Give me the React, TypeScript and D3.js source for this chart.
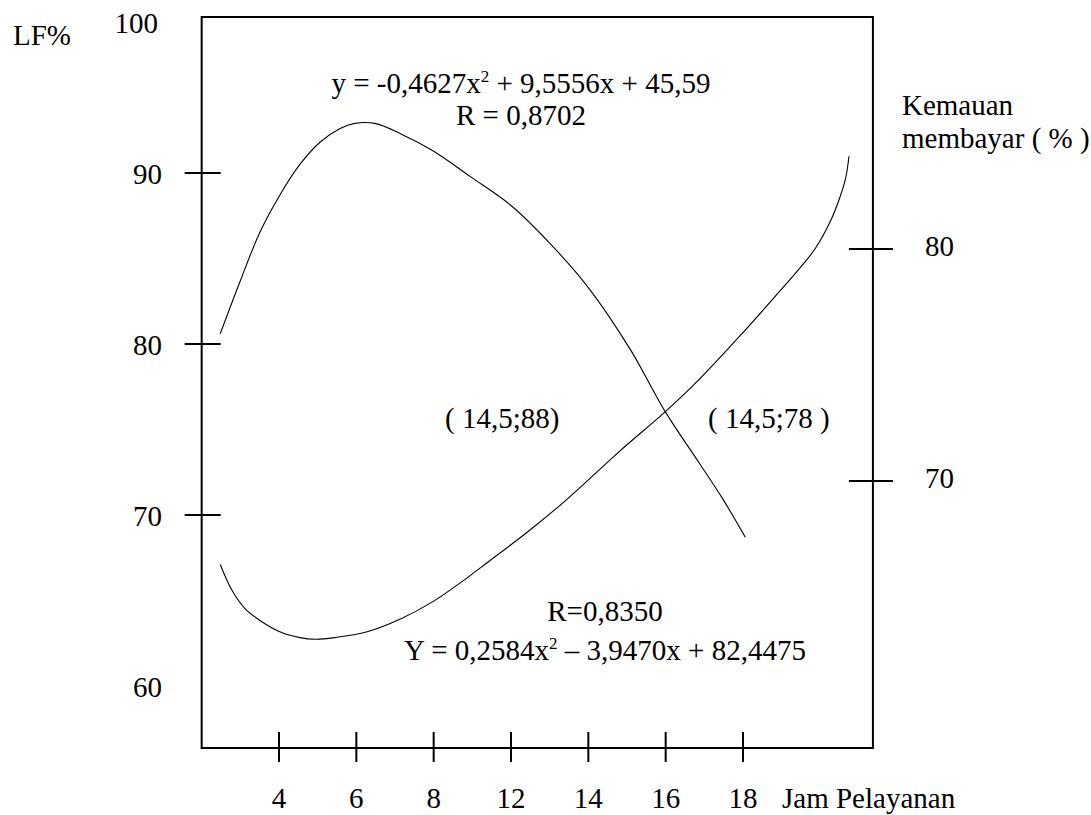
import React, { useEffect } from "react";
import * as d3 from "d3";

// x axis: categorical hour labels, evenly spaced
const hourLabels = ["4", "6", "8", "12", "14", "16", "18"];
// left axis (LF%)
const lfTicks = [90, 80, 70];
const lfLabels = [90, 80, 70, 60];
// right axis (Kemauan membayar %)
const payTicks = [80, 70];

// curves; x in tick steps (0 = "4", 6 = "18")
const lfX = [-0.76, -0.5, -0.25, 0.01, 0.27, 0.53, 0.79, 0.98, 1.24, 1.57, 1.99, 2.47, 3.0, 3.5, 4.0, 4.54, 5.0, 5.44, 5.73, 6.03];
const lfY = [80.6, 83.7, 86.5, 88.7, 90.5, 91.8, 92.6, 92.9, 92.9, 92.3, 91.3, 89.8, 88.1, 85.9, 83.3, 79.7, 76.0, 73.0, 71.0, 68.7];

const payX = [-0.76, -0.61, -0.44, -0.25, 0.01, 0.27, 0.47, 0.72, 1.14, 1.57, 1.99, 2.34, 2.7, 3.25, 3.72, 4.41, 5.0, 5.44, 6.0, 6.48, 6.74, 6.93, 7.13, 7.25, 7.33, 7.37];
const payY = [66.4, 65.3, 64.5, 64.0, 63.5, 63.25, 63.18, 63.25, 63.5, 64.05, 64.8, 65.6, 66.5, 67.9, 69.2, 71.3, 73.0, 74.4, 76.4, 78.2, 79.2, 80.0, 81.2, 82.2, 83.1, 84.0];

const W = 1091;
const H = 815;
const font = "'Liberation Serif', 'Times New Roman', serif";
const fs = 29;

const App = () => {
  useEffect(() => {
    document.body.style.margin = "0";
  }, []);

  const x = d3.scaleLinear().domain([0, 6]).range([279, 743]);
  const yL = d3.scaleLinear().domain([70, 90]).range([515, 173]);
  const yR = d3.scaleLinear().domain([70, 80]).range([481, 249]);

  const left = x(-1);
  const right = x(7.68);
  const top = 17;
  const bottom = 748;

  const lfLine = d3
    .line<number>()
    .x((d, i) => x(lfX[i]))
    .y((d) => yL(d))
    .curve(d3.curveCatmullRom.alpha(0.5));

  const payLine = d3
    .line<number>()
    .x((d, i) => x(payX[i]))
    .y((d) => yR(d))
    .curve(d3.curveCatmullRom.alpha(0.5));

  return (
    <svg width={W} height={H} style={{ display: "block", background: "#fff" }} fontFamily={font} fontSize={fs}>
      {/* frame */}
      <path
        d={`M${left},${top}H${right}V${bottom}H${left}Z`}
        fill="none"
        stroke="#000"
        strokeWidth={2}
      />

      {/* left axis */}
      {lfTicks.map((v) => (
        <line key={"lt" + v} x1={left - 17} x2={left + 19} y1={yL(v)} y2={yL(v)} stroke="#000" strokeWidth={2} />
      ))}
      {lfLabels.map((v) => (
        <text key={"ll" + v} x={162} y={yL(v) + 11} textAnchor="end">
          {v}
        </text>
      ))}
      <text x={158} y={top + 16} textAnchor="end">100</text>
      <text x={13} y={45}>LF%</text>

      {/* right axis */}
      {payTicks.map((v) => (
        <line key={"rt" + v} x1={right - 24} x2={right + 20} y1={yR(v)} y2={yR(v)} stroke="#000" strokeWidth={2} />
      ))}
      {payTicks.map((v) => (
        <text key={"rl" + v} x={right + 52} y={yR(v) + 7}>
          {v}
        </text>
      ))}
      <text x={902} y={115}>Kemauan</text>
      <text x={902} y={148}>membayar ( % )</text>

      {/* bottom axis */}
      {hourLabels.map((h, i) => (
        <g key={"bt" + h}>
          <line x1={x(i)} x2={x(i)} y1={bottom - 16} y2={bottom + 14} stroke="#000" strokeWidth={2} />
          <text x={x(i)} y={808} textAnchor="middle">
            {h}
          </text>
        </g>
      ))}
      <text x={782} y={808}>Jam Pelayanan</text>

      {/* curves */}
      <path d={lfLine(lfY) || ""} fill="none" stroke="#000" strokeWidth={1.1} />
      <path d={payLine(payY) || ""} fill="none" stroke="#000" strokeWidth={1.1} />

      {/* annotations */}
      <text x={521} y={93} textAnchor="middle">
        y = -0,4627x<tspan dy={-11} fontSize={17}>2</tspan>
        <tspan dy={11}> + 9,5556x + 45,59</tspan>
      </text>
      <text x={521} y={125} textAnchor="middle">R = 0,8702</text>

      <text x={445} y={428}>( 14,5;88)</text>
      <text x={708} y={428}>( 14,5;78 )</text>

      <text x={605} y={621} textAnchor="middle">R=0,8350</text>
      <text x={605} y={660} textAnchor="middle">
        Y = 0,2584x<tspan dy={-11} fontSize={17}>2</tspan>
        <tspan dy={11}> – 3,9470x + 82,4475</tspan>
      </text>
    </svg>
  );
};

export default App;
